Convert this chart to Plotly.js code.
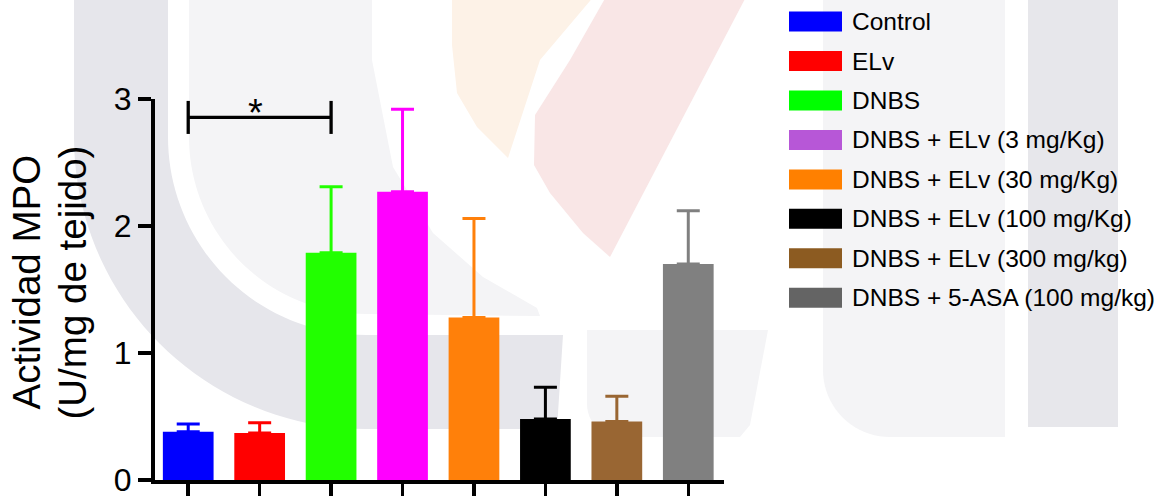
<!DOCTYPE html>
<html>
<head>
<meta charset="utf-8">
<script src="https://cdn.plot.ly/plotly-3.0.1.min.js"></script>
<style>
  html, body { margin: 0; padding: 0; background: #ffffff; }
  #chart { width: 1167px; height: 496px; }
</style>
</head>
<body>
<div id="chart"></div>
<script>
// MPO activity per treatment group (mean + SEM, upper error only)
const groups = [
  'Control',
  'ELv',
  'DNBS',
  'DNBS + ELv (3 mg/Kg)',
  'DNBS + ELv (30 mg/Kg)',
  'DNBS + ELv (100 mg/Kg)',
  'DNBS + ELv (300 mg/kg)',
  'DNBS + 5-ASA (100 mg/kg)'
];
const mpoMean = [0.38, 0.37, 1.79, 2.27, 1.28, 0.48, 0.46, 1.70];
const mpoSem  = [0.06, 0.08, 0.52, 0.65, 0.78, 0.25, 0.20, 0.42];
const barColors    = ['#0000ff', '#ff0000', '#22ff00', '#ff00ff', '#ff800a', '#000000', '#996633', '#808080'];
const legendColors = ['#0000ff', '#ff0000', '#00ff00', '#b757d7', '#ff8000', '#000000', '#8c5b21', '#646464'];
const yTicks = [0, 1, 2, 3];
const yTitleLines = ['Actividad MPO', '(U/mg de tejido)'];

// Significance bracket: Control vs DNBS
const sigFrom = 0, sigTo = 2, sigLevel = 2.855, sigLegLow = 2.725, sigLegHigh = 2.985, sigText = '*';

// Page geometry (pixels)
const W = 1167, H = 496;
const M = { l: 155, r: 443, t: 99, b: 16 };
const PW = W - M.l - M.r, PH = H - M.t - M.b;
const px = x => (x - M.l) / PW;          // pixel x -> paper x
const py = y => (H - M.b - y) / PH;      // pixel y -> paper y
const FONT = 'Arial, "Liberation Sans", Helvetica, sans-serif';

// Bars: one trace per group so each error bar can take its bar's colour
const traces = groups.map((g, i) => ({
  type: 'bar',
  x: [g],
  y: [mpoMean[i]],
  width: 0.71,
  marker: { color: barColors[i], line: { width: 0 } },
  error_y: {
    type: 'data', symmetric: false,
    array: [mpoSem[i]], arrayminus: [0],
    color: barColors[i], thickness: 3, width: 11.5
  },
  showlegend: false,
  name: g,
  hoverinfo: 'y+name'
}));

// Faint background emblem drawn beneath the chart
function pathFrom(points) {
  return 'M' + points.map(p => px(p[0]).toFixed(5) + ',' + py(p[1]).toFixed(5)).join(' L') + ' Z';
}
function arc(cx, cy, r, a0, a1, n) {
  const pts = [];
  for (let k = 0; k <= n; k++) {
    const a = (a0 + (a1 - a0) * k / n) * Math.PI / 180;
    pts.push([cx + r * Math.cos(a), cy + r * Math.sin(a)]);
  }
  return pts;
}
const ringPts = [[74, -5], [74, 137]].concat(arc(366, 137, 292, 180, 90, 40), [[557, 429], [563, 335]],
  arc(366, 137, 198, 90, 180, 40), [[168, 137], [168, -5]]);
const palePts = [[189, -5], [372, -5], [372, 60], [393, 167], [433, 233], [483, 277], [537, 308], [540, 316]]
  .concat(arc(366, 137, 177, 90, 180, 40), [[189, 137]]);
const orangePts = [[452, -5], [595, -5], [540, 60], [508, 158], [497, 147], [477, 127], [457, 93], [452, 45]];
const pinkPts = [[607, -5], [747, -5], [610, 257], [583, 233], [550, 193], [534, 165], [535, 115], [570, 60]];
const rightPale = [[823, -5], [1005, -5], [1005, 437], [890, 437]].concat(arc(890, 370, 67, 90, 180, 20), [[823, 370]]);
const midPale = [[587, 330], [768, 330], [750, 425], [740, 437], [620, 437]].concat(arc(620, 404, 33, 90, 180, 12), [[587, 404]]);
const rightBand = [[1028, -5], [1118, -5], [1118, 427], [1028, 427]];

const bgShapes = [
  { pts: palePts, color: '#f4f4f6' },
  { pts: rightPale, color: '#f4f4f6' },
  { pts: midPale, color: '#f4f4f6' },
  { pts: ringPts, color: '#e6e6eb' },
  { pts: rightBand, color: '#e7e7eb' },
  { pts: orangePts, color: '#fdf2e7' },
  { pts: pinkPts, color: '#f9e6e6' }
].map(s => ({
  type: 'path', xref: 'paper', yref: 'paper', layer: 'below',
  path: pathFrom(s.pts), fillcolor: s.color, line: { width: 0 }
}));

// Bracket for the significance mark
const bracket = [
  { x0: sigFrom, x1: sigTo, y0: sigLevel, y1: sigLevel },
  { x0: sigFrom, x1: sigFrom, y0: sigLegLow, y1: sigLegHigh },
  { x0: sigTo, x1: sigTo, y0: sigLegLow, y1: sigLegHigh }
].map(s => Object.assign({ type: 'line', xref: 'x', yref: 'y', line: { color: '#000000', width: 3.3 } }, s));

// Legend: colour swatches and labels
const legTop = 21.6, legStep = 39.45;
const legendShapes = groups.map((g, i) => ({
  type: 'rect', xref: 'paper', yref: 'paper',
  x0: px(789), x1: px(842),
  y0: py(legTop + i * legStep - 10), y1: py(legTop + i * legStep + 10),
  fillcolor: legendColors[i], line: { width: 0 }
}));
const legendLabels = groups.map((g, i) => ({
  xref: 'paper', yref: 'paper',
  x: px(850), y: py(legTop + i * legStep),
  xanchor: 'left', yanchor: 'middle',
  text: g, showarrow: false,
  font: { family: FONT, size: 24.5, color: '#000000' }
}));

// Y axis title, one annotation per line
const yTitle = yTitleLines.map((t, i) => ({
  xref: 'paper', yref: 'paper',
  x: px(i === 0 ? 26 : 72), y: py(282.5),
  xanchor: 'center', yanchor: 'middle',
  text: t, textangle: -90, showarrow: false,
  font: { family: FONT, size: 38.5, color: '#000000' }
}));

const annotations = yTitle.concat([
  {
    xref: 'x', yref: 'paper',
    x: (sigFrom + sigTo) / 2, y: py(113),
    xanchor: 'center', yanchor: 'middle', xshift: -4,
    text: sigText, showarrow: false,
    font: { family: FONT, size: 38, color: '#000000' }
  }
], legendLabels);

const layout = {
  width: W, height: H,
  margin: M,
  paper_bgcolor: '#ffffff',
  plot_bgcolor: 'rgba(0,0,0,0)',
  barmode: 'overlay',
  showlegend: false,
  font: { family: FONT, color: '#000000' },
  xaxis: {
    type: 'category', categoryorder: 'array', categoryarray: groups,
    range: [-0.465, 7.5],
    showline: true, linecolor: '#000000', linewidth: 4,
    ticks: 'outside', ticklen: 15, tickwidth: 3.5, tickcolor: '#000000',
    showticklabels: false, showgrid: false, zeroline: false, fixedrange: true
  },
  yaxis: {
    range: [0, 3], tickvals: yTicks, ticktext: yTicks.map(String),
    showline: true, linecolor: '#000000', linewidth: 4,
    ticks: 'outside', ticklen: 13, tickwidth: 3.5, tickcolor: '#000000',
    tickfont: { family: FONT, size: 32, color: '#000000' },
    ticklabeloverflow: 'allow',
    showgrid: false, zeroline: false, fixedrange: true
  },
  shapes: bgShapes.concat(bracket, legendShapes),
  annotations: annotations
};

Plotly.newPlot('chart', traces, layout, { displayModeBar: false, staticPlot: true });
</script>
</body>
</html>
